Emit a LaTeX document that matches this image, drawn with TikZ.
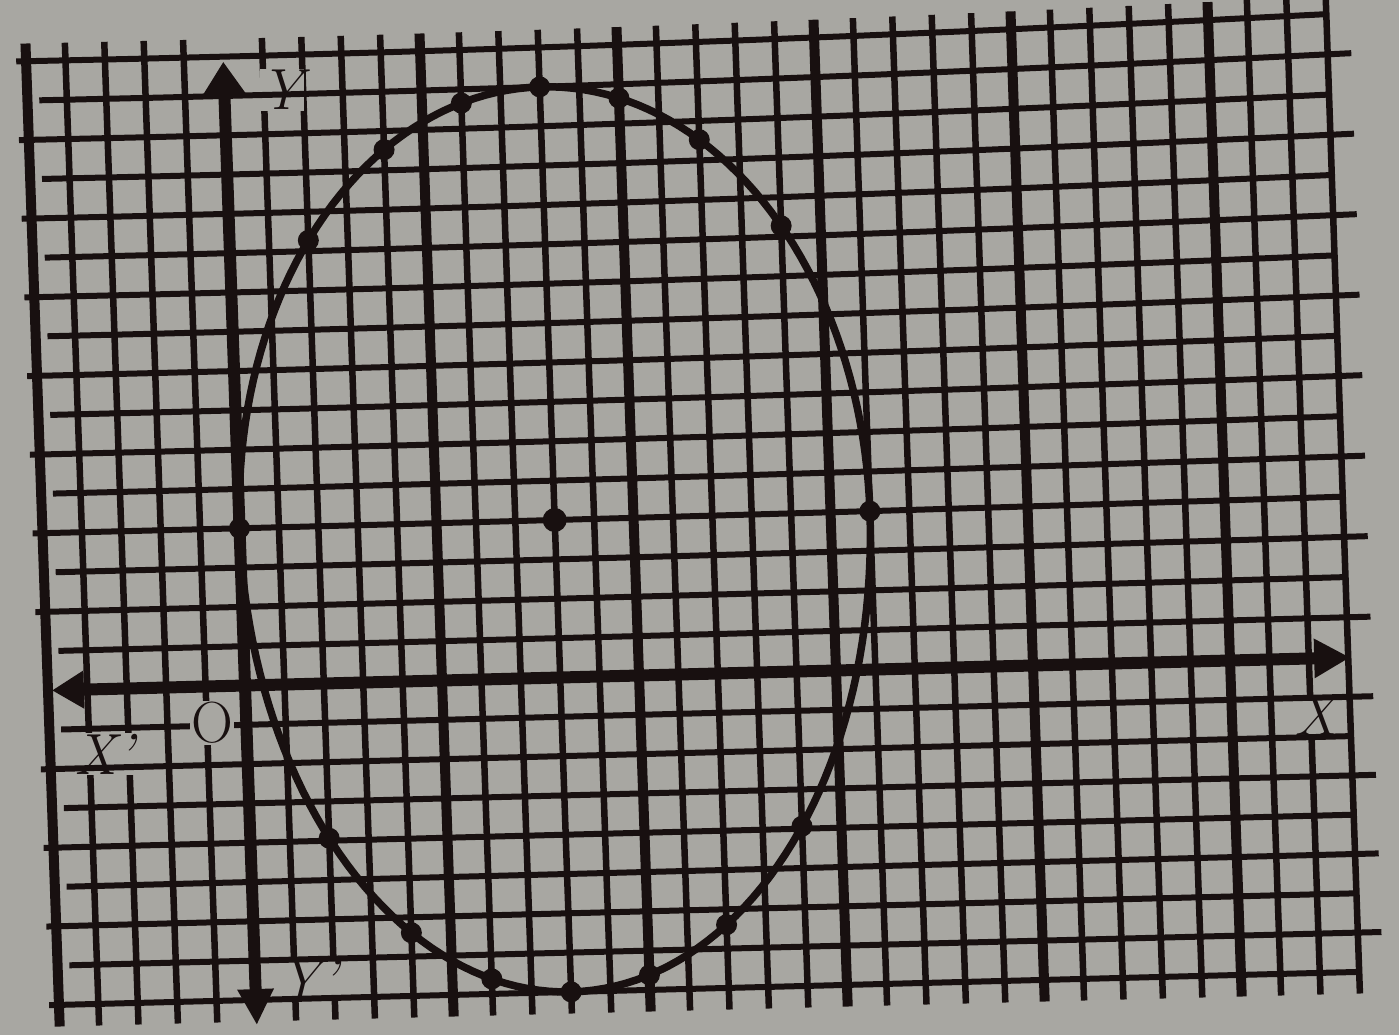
\documentclass[tikz,border=0pt]{standalone}
\usepackage{fontspec}
\usetikzlibrary{arrows.meta}
\definecolor{paper}{RGB}{168,167,162}
\definecolor{ink}{RGB}{24,16,16}
\pgfdeclarelayer{gridv}
\pgfdeclarelayer{boxes}
\pgfdeclarelayer{gridh}
\pgfsetlayers{gridv,boxes,gridh,main}
\tikzset{
  thinline/.style={ink, line width=6.5pt},
  thickline/.style={ink, line width=10pt},
  hline/.style={ink, line width=6pt},
  axisline/.style={ink, line width=12pt},
  curveline/.style={ink, line width=7.5pt, line join=round},
  dotmark/.style={ink},
  lbl/.style={font=\fontsize{58}{66}\selectfont, text=ink, inner sep=1pt},
}
\begin{document}
\begin{tikzpicture}[x=1pt, y=-1pt,
  declare function={
    px(\a,\b)=245+39.4*\a-1.37*\b;
    py(\a,\b)=685.5-39.3*\b-1.0*\a-0.00116*\a*\a*max(\b,0);
  }]
\useasboundingbox (0,0) rectangle (1399,1035);

% paper and vertical grid lines
\begin{pgfonlayer}{gridv}
\fill[paper] (0,0) rectangle (1399,1035);
\foreach \i in {-5,...,28}{
  \ifnum\i=0\relax\else
  \pgfmathtruncatemacro\m{mod(\i+5,5)}
  \ifnum\m=0 \def\vst{thickline}\else\def\vst{thinline}\fi
  \draw[\vst] ({px(\i,16.45)},{py(\i,16.45)}) -- ({px(\i,0)},{py(\i,0)}) -- ({px(\i,-8.55)},{py(\i,-8.55)});
  \fi
}
\end{pgfonlayer}

% horizontal grid lines
\begin{pgfonlayer}{gridh}
\foreach \j in {-8,...,16}{
  \ifnum\j=0\relax\else
  \pgfmathtruncatemacro\od{mod(\j+8,2)}
  \ifnum\od=0 \def\xa{-5.25}\def\xb{28.05}\else\def\xa{-4.7}\def\xb{28.6}\fi
  \draw[hline] plot[domain=\xa:\xb, samples=12] ({px(\x,\j)},{py(\x,\j)});
  \fi
}
\end{pgfonlayer}

% labels
\node[lbl] (Ylab) at (282,90) {\itshape Y};
\node[lbl] (Xplab) at (104,754) {\itshape X'};
\node[lbl] (Xlab) at (1316,716) {\itshape X};
\node[lbl] (Yplab) at (308,979) {\itshape Y'};
\node[lbl, fill=paper] (Olab) at (212,723) {O};

\begin{pgfonlayer}{boxes}
\fill[paper] (Ylab.south west) rectangle (Ylab.north east);
\fill[paper] (Xplab.south west) rectangle (Xplab.north east);
\fill[paper] (Xlab.south west) rectangle (Xlab.north east);
\fill[paper] (Yplab.south west) rectangle (Yplab.north east);
\end{pgfonlayer}

% axes
\coordinate (xl) at ({px(-4.9,0)},{py(-4.9,0)});
\coordinate (xr) at ({px(28.05,0)},{py(28.05,0)});
\coordinate (yt) at ({px(0,15.87)},{py(0,15.87)});
\coordinate (yb) at ({px(0,-8.64)},{py(0,-8.64)});
\draw[axisline, {Triangle[length=32pt,width=36pt]}-{Triangle[length=36pt,width=37pt]}] (xl) -- (xr);
\draw[axisline, {Triangle[length=36pt,width=34pt]}-{Triangle[length=32pt,width=40pt]}] (yb) -- (yt);

% ellipse (upper half b=11, lower half b=12)
\draw[curveline] plot[domain=0:180, samples=91, variable=\t]
   ({px(8+8*cos(\t),4+11*sin(\t))},{py(8+8*cos(\t),4+11*sin(\t))})
   -- plot[domain=180:360, samples=91, variable=\t]
   ({px(8+8*cos(\t),4+12*sin(\t))},{py(8+8*cos(\t),4+12*sin(\t))}) -- cycle;

% plotted points
\foreach \u in {0,2,...,16}{
  \pgfmathsetmacro\vu{4+11*sqrt(max(0,1-((\u-8)/8)^2))}
  \fill[dotmark] ({px(\u,\vu)},{py(\u,\vu)}) circle (10.5);
}
\foreach \u in {2,4,...,14}{
  \pgfmathsetmacro\vl{4-12*sqrt(max(0,1-((\u-8)/8)^2))}
  \fill[dotmark] ({px(\u,\vl)},{py(\u,\vl)}) circle (10.5);
}
\fill[dotmark] ({px(8,4)},{py(8,4)}) circle (12);
\end{tikzpicture}
\end{document}
